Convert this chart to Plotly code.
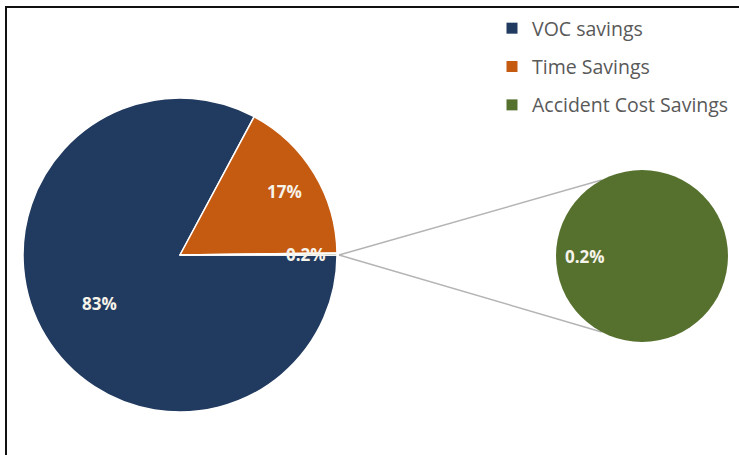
import math
import plotly.graph_objects as go

# ---- data ----
categories = ["VOC savings", "Time Savings", "Accident Cost Savings"]
values = [83, 17, 0.2]
value_labels = ["83%", "17%", "0.2%"]
colors = ["#213a5f", "#c55a11", "#56702e"]

W, H = 739, 455

# geometry (pixels) of the two pies
main_c = (180, 255); main_r = 157
sub_c = (642, 256); sub_r = 86
label_r_frac = [0.60, 0.78, 0.80]   # radial placement of labels in main pie

def px_dom(c, r):
    return dict(x=[(c[0] - r) / W, (c[0] + r) / W],
                y=[(H - c[1] - r) / H, (H - c[1] + r) / H])

def to_paper(x, y):
    return x / W, (H - y) / H

fig = go.Figure()

fig.add_trace(go.Pie(
    labels=categories, values=values, sort=False,
    direction="clockwise", rotation=90,
    marker=dict(colors=colors, line=dict(color="white", width=1.5)),
    textinfo="none",
    domain=px_dom(main_c, main_r), showlegend=False, hoverinfo="label+percent",
))

fig.add_trace(go.Pie(
    labels=[categories[2]], values=[values[2]], sort=False,
    marker=dict(colors=[colors[2]], line=dict(color="white", width=0)),
    textinfo="none", domain=px_dom(sub_c, sub_r), showlegend=False,
))

# legend entries
for i, (cat, col) in enumerate(zip(categories, colors)):
    fig.add_trace(go.Scatter(
        x=[None], y=[None], mode="markers", name=cat, legendgroup=f"g{i}",
        marker=dict(symbol="square", size=11, color=col),
    ))

label_font = dict(family="Open Sans", size=17, color="#f6f3ea", weight="bold")

# data labels of main pie, placed along each slice's mid-angle
total = sum(values)
start_deg = 90.0  # clockwise from 12 o'clock
for v, lab, fr in zip(values, value_labels, label_r_frac):
    span = v / total * 360.0
    mid = start_deg + span / 2.0
    start_deg += span
    a = math.radians(mid)
    lx = main_c[0] + main_r * fr * math.sin(a)
    ly = main_c[1] - main_r * fr * math.cos(a)
    px_, py_ = to_paper(lx, ly)
    fig.add_annotation(x=px_, y=py_, xref="paper", yref="paper", text=lab,
                       xanchor="center", yanchor="middle",
                       showarrow=False, font=label_font)

# label inside the secondary pie
px_, py_ = to_paper(sub_c[0] - sub_r * 0.66, sub_c[1])
fig.add_annotation(x=px_, y=py_, xref="paper", yref="paper", text=value_labels[2],
                   xanchor="center", yanchor="middle",
                   showarrow=False, font=label_font)

# connector lines
start = (main_c[0] + main_r + 2, main_c[1])
shapes = []
for ang in (118, 242):
    a = math.radians(ang)
    ex = sub_c[0] + sub_r * math.cos(a)
    ey = sub_c[1] - sub_r * math.sin(a)
    x0, y0 = to_paper(*start)
    x1, y1 = to_paper(ex, ey)
    shapes.append(dict(type="line", xref="paper", yref="paper", x0=x0, y0=y0, x1=x1, y1=y1,
                       line=dict(color="#b4b4b4", width=1.5), layer="below"))
# frame
shapes.append(dict(type="rect", xref="paper", yref="paper", x0=6 / W, x1=1.05, y0=-0.05, y1=1 - 7 / H,
                   line=dict(color="#111111", width=2)))

fig.update_layout(
    width=W, height=H, margin=dict(l=0, r=0, t=0, b=0, autoexpand=False),
    paper_bgcolor="white", plot_bgcolor="white",
    shapes=shapes,
    xaxis=dict(visible=False), yaxis=dict(visible=False),
    legend=dict(x=492 / W, y=1 - 9 / H, xanchor="left", yanchor="top",
                font=dict(family="Open Sans", size=19.5, color="#595959"),
                tracegroupgap=10, bgcolor="rgba(0,0,0,0)"),
)

fig.write_html("out.html")
